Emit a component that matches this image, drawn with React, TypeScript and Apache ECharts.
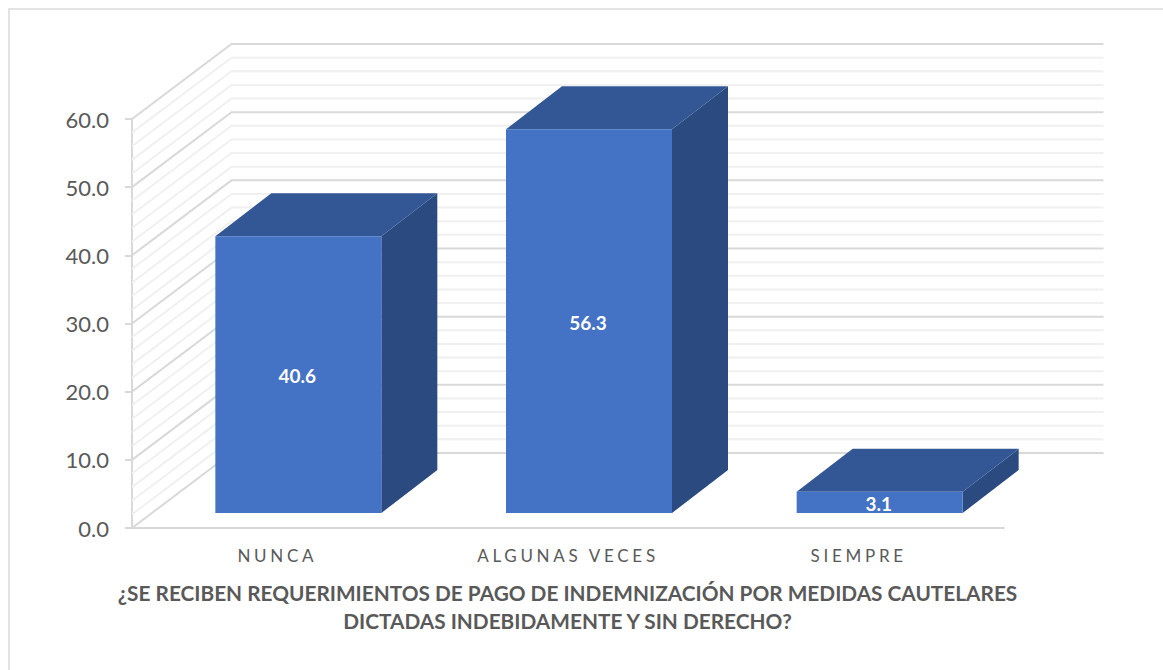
import React, { useEffect, useRef } from "react";
import * as echarts from "echarts";

const categories = ["NUNCA", "ALGUNAS VECES", "SIEMPRE"];
const percentages = [40.6, 56.3, 3.1];
const majorWallTicks = [0, 10, 20, 30, 40, 50, 60];
const minorWallTicks = [
  2, 4, 6, 8, 12, 14, 16, 18, 22, 24, 26, 28, 32, 34, 36, 38, 42, 44, 46, 48, 52, 54, 56, 58,
];
const axisTitle =
  "¿SE RECIBEN REQUERIMIENTOS DE PAGO DE INDEMNIZACIÓN POR MEDIDAS CAUTELARES\nDICTADAS INDEBIDAMENTE Y SIN DERECHO?";

const FONT = "Lato, 'Open Sans', sans-serif";
const WALL_DX = 99.5;
const WALL_DY = -75;
const BAR_OFFSET_X = 21;
const BAR_OFFSET_Y = -15;
const BAR_WIDTH = 166;
const DEPTH_DX = 56;
const DEPTH_DY = -43;

const wallRenderer = (color: string) => (params: any, api: any) => {
  const cs = params.coordSys;
  const y = api.coord([0, api.value(1)])[1];
  return {
    type: "polyline",
    silent: true,
    shape: {
      points: [
        [cs.x, y],
        [cs.x + WALL_DX, y + WALL_DY],
        [cs.x + cs.width + WALL_DX, y + WALL_DY],
      ],
    },
    style: { fill: "none", stroke: color, lineWidth: 2 },
  };
};

const barRenderer = (_params: any, api: any) => {
  const value = api.value(1);
  const base = api.coord([api.value(0), 0]);
  const top = api.coord([api.value(0), value]);
  const x0 = base[0] + BAR_OFFSET_X - BAR_WIDTH / 2;
  const x1 = x0 + BAR_WIDTH;
  const yb = base[1] + BAR_OFFSET_Y;
  const yt = top[1] + BAR_OFFSET_Y;
  return {
    type: "group",
    silent: true,
    children: [
      {
        type: "polygon",
        shape: {
          points: [
            [x1, yt],
            [x1 + DEPTH_DX, yt + DEPTH_DY],
            [x1 + DEPTH_DX, yb + DEPTH_DY],
            [x1, yb],
          ],
        },
        style: { fill: "#2b4a80" },
      },
      {
        type: "polygon",
        shape: {
          points: [
            [x0, yt],
            [x0 + DEPTH_DX, yt + DEPTH_DY],
            [x1 + DEPTH_DX, yt + DEPTH_DY],
            [x1, yt],
          ],
        },
        style: { fill: "#335795" },
      },
      {
        type: "rect",
        shape: { x: x0, y: yt, width: BAR_WIDTH, height: yb - yt },
        style: { fill: "#4472c4" },
      },
      {
        type: "text",
        x: (x0 + x1) / 2 - 1,
        y: (yt + yb) / 2 + 1,
        style: {
          text: value.toFixed(1),
          fill: "#ffffff",
          font: `bold 19px ${FONT}`,
          align: "center",
          verticalAlign: "middle",
        },
      },
    ],
  };
};

export default function App() {
  const ref = useRef<HTMLDivElement>(null);

  useEffect(() => {
    const chart = echarts.init(ref.current!, null, { renderer: "svg" });
    chart.setOption({
      animation: false,
      backgroundColor: "#ffffff",
      grid: { left: 132, right: 159, top: 119, bottom: 142 },
      title: {
        text: axisTitle,
        left: 562.5,
        top: 573,
        textAlign: "center",
        textStyle: {
          fontFamily: FONT,
          fontSize: 20.8,
          fontWeight: "bold",
          color: "#595959",
          lineHeight: 28,
        },
      },
      xAxis: {
        type: "category",
        data: categories,
        axisLine: { lineStyle: { color: "#d9d9d9", width: 2 } },
        axisTick: { show: false },
        axisLabel: { color: "#595959", fontFamily: FONT, fontSize: 17, margin: 19 },
      },
      yAxis: {
        type: "value",
        min: 0,
        max: 60,
        interval: 10,
        splitLine: { show: false },
        axisLine: { show: true, lineStyle: { color: "#d9d9d9", width: 2 } },
        axisTick: { show: true, length: 7, lineStyle: { color: "#d9d9d9", width: 2 } },
        axisLabel: {
          color: "#595959",
          fontFamily: FONT,
          fontSize: 22,
          margin: 23,
          formatter: (v: number) => v.toFixed(1),
        },
      },
      graphic: [
        {
          type: "polyline",
          silent: true,
          shape: { points: [[9, 670], [9, 9], [1163, 9]] },
          style: { fill: "none", stroke: "#e3e3e3", lineWidth: 2 },
        },
      ],
      series: [
        {
          type: "custom",
          name: "minor",
          z: 1,
          renderItem: wallRenderer("#f0f0f0"),
          data: minorWallTicks.map((v) => [0, v]),
        },
        {
          type: "custom",
          name: "major",
          z: 2,
          renderItem: wallRenderer("#d9d9d9"),
          data: majorWallTicks.map((v) => [0, v]),
        },
        {
          type: "custom",
          name: "bars",
          z: 3,
          renderItem: barRenderer,
          data: percentages.map((v, i) => [i, v]),
        },
      ],
    });
    ref.current!.querySelectorAll("text").forEach((t) => {
      if (categories.includes((t.textContent || "").trim())) {
        (t as SVGTextElement).style.letterSpacing = "3.7px";
      }
    });
    return () => chart.dispose();
  }, []);

  return (
    <div
      ref={ref}
      style={{ position: "absolute", left: 0, top: 0, width: 1163, height: 670 }}
    />
  );
}
